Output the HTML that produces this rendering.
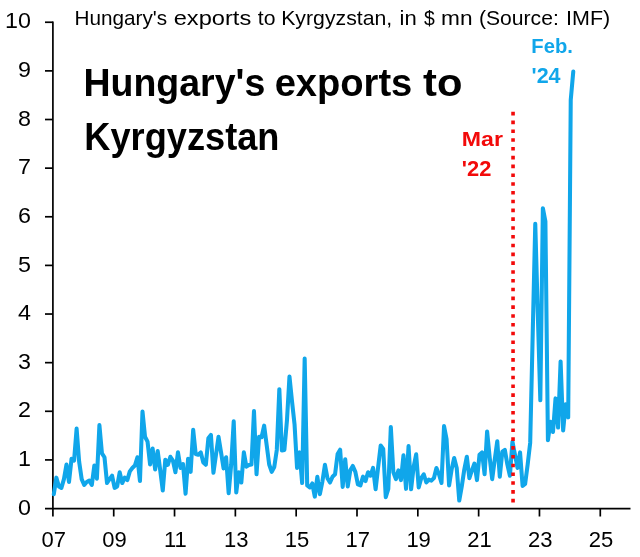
<!DOCTYPE html>
<html lang="en"><head><meta charset="utf-8"><title>Hungary's exports to Kyrgyzstan</title>
<style>html,body{margin:0;padding:0;background:#fff}svg{display:block}</style></head>
<body>
<svg width="640" height="557" viewBox="0 0 640 557">
<rect width="640" height="557" fill="#fff"/>
<g stroke="#000" stroke-width="1.7" fill="none">
<path d="M52.9 21.40 V508.55"/>
<path d="M45 508.55 H630.5"/>
<path d="M45 459.92 H52.9"/>
<path d="M45 411.29 H52.9"/>
<path d="M45 362.66 H52.9"/>
<path d="M45 314.03 H52.9"/>
<path d="M45 265.40 H52.9"/>
<path d="M45 216.77 H52.9"/>
<path d="M45 168.14 H52.9"/>
<path d="M45 119.51 H52.9"/>
<path d="M45 70.88 H52.9"/>
<path d="M45 22.25 H52.9"/>
<path d="M52.90 508.55 V516.5"/>
<path d="M113.72 508.55 V516.5"/>
<path d="M174.54 508.55 V516.5"/>
<path d="M235.36 508.55 V516.5"/>
<path d="M296.18 508.55 V516.5"/>
<path d="M357.00 508.55 V516.5"/>
<path d="M417.82 508.55 V516.5"/>
<path d="M478.64 508.55 V516.5"/>
<path d="M539.46 508.55 V516.5"/>
<path d="M600.28 508.55 V516.5"/>
</g>
<g font-family="'Liberation Sans', Arial, sans-serif" fill="#000">
<text x="18.03" y="514.70" font-size="22" textLength="12.97" lengthAdjust="spacingAndGlyphs">0</text>
<text x="18.03" y="466.07" font-size="22" textLength="12.97" lengthAdjust="spacingAndGlyphs">1</text>
<text x="18.03" y="417.44" font-size="22" textLength="12.97" lengthAdjust="spacingAndGlyphs">2</text>
<text x="18.03" y="368.81" font-size="22" textLength="12.97" lengthAdjust="spacingAndGlyphs">3</text>
<text x="18.03" y="320.18" font-size="22" textLength="12.97" lengthAdjust="spacingAndGlyphs">4</text>
<text x="18.03" y="271.55" font-size="22" textLength="12.97" lengthAdjust="spacingAndGlyphs">5</text>
<text x="18.03" y="222.92" font-size="22" textLength="12.97" lengthAdjust="spacingAndGlyphs">6</text>
<text x="18.03" y="174.29" font-size="22" textLength="12.97" lengthAdjust="spacingAndGlyphs">7</text>
<text x="18.03" y="125.66" font-size="22" textLength="12.97" lengthAdjust="spacingAndGlyphs">8</text>
<text x="18.03" y="77.03" font-size="22" textLength="12.97" lengthAdjust="spacingAndGlyphs">9</text>
<text x="5.07" y="28.40" font-size="22" textLength="25.93" lengthAdjust="spacingAndGlyphs">10</text>
<text x="53.70" y="547" font-size="22" text-anchor="middle">07</text>
<text x="114.52" y="547" font-size="22" text-anchor="middle">09</text>
<text x="175.34" y="547" font-size="22" text-anchor="middle">11</text>
<text x="236.16" y="547" font-size="22" text-anchor="middle">13</text>
<text x="296.98" y="547" font-size="22" text-anchor="middle">15</text>
<text x="357.80" y="547" font-size="22" text-anchor="middle">17</text>
<text x="418.62" y="547" font-size="22" text-anchor="middle">19</text>
<text x="479.44" y="547" font-size="22" text-anchor="middle">21</text>
<text x="540.26" y="547" font-size="22" text-anchor="middle">23</text>
<text x="601.08" y="547" font-size="22" text-anchor="middle">25</text>
<text y="24.7" font-size="20.6"><tspan x="74.59" textLength="92.6" lengthAdjust="spacingAndGlyphs">Hungary&#39;s</tspan> <tspan x="173.7" textLength="77.54" lengthAdjust="spacingAndGlyphs">exports</tspan> <tspan x="257.8" textLength="17.67" lengthAdjust="spacingAndGlyphs">to</tspan> <tspan x="281.17" textLength="111.1" lengthAdjust="spacingAndGlyphs">Kyrgyzstan,</tspan> <tspan x="399.53" textLength="17.21" lengthAdjust="spacingAndGlyphs">in</tspan> <tspan x="424.0" textLength="10.79" lengthAdjust="spacingAndGlyphs">$</tspan> <tspan x="441.04" textLength="31.49" lengthAdjust="spacingAndGlyphs">mn</tspan> <tspan x="478.97" textLength="79.79" lengthAdjust="spacingAndGlyphs">(Source:</tspan> <tspan x="566.08" textLength="44.14" lengthAdjust="spacingAndGlyphs">IMF)</tspan></text>
<text y="96.4" font-size="38" font-weight="bold"><tspan x="83.43" textLength="181.83" lengthAdjust="spacingAndGlyphs">Hungary&#39;s</tspan> <tspan x="274.65" textLength="137.63" lengthAdjust="spacingAndGlyphs">exports</tspan> <tspan x="423.1" textLength="39.31" lengthAdjust="spacingAndGlyphs">to</tspan></text>
<text y="149.5" font-size="38" font-weight="bold"><tspan x="84.35" textLength="195.06" lengthAdjust="spacingAndGlyphs">Kyrgyzstan</tspan></text>
<text y="146.1" font-size="20.9" font-weight="bold" fill="#F20A0A"><tspan x="461.79" textLength="41.15" lengthAdjust="spacingAndGlyphs">Mar</tspan></text>
<text y="175.7" font-size="21.2" font-weight="bold" fill="#F20A0A"><tspan x="461.87" textLength="29.54" lengthAdjust="spacingAndGlyphs">&#39;22</tspan></text>
<text y="53.3" font-size="20.9" font-weight="bold" fill="#10A6EA"><tspan x="531.34" textLength="41.53" lengthAdjust="spacingAndGlyphs">Feb.</tspan></text>
<text y="82.8" font-size="21.2" font-weight="bold" fill="#10A6EA"><tspan x="531.59" textLength="28.99" lengthAdjust="spacingAndGlyphs">&#39;24</tspan></text>
</g>
<polyline points="53.80,494.20 56.33,477.66 58.87,486.42 61.40,487.88 63.94,479.12 66.47,464.53 69.00,482.04 71.54,458.70 74.07,460.64 76.61,428.55 79.14,461.62 81.67,479.12 84.21,484.96 86.74,482.04 89.28,480.58 91.81,484.96 94.34,465.51 96.88,478.64 99.41,425.14 101.95,453.35 104.48,457.24 107.01,483.01 109.55,479.12 112.08,475.72 114.62,487.88 117.15,486.42 119.68,472.31 122.22,483.01 124.75,477.66 127.29,480.09 129.82,471.34 132.35,467.94 134.89,465.51 137.42,457.24 139.96,481.07 142.49,411.53 145.02,436.81 147.56,441.68 150.09,464.53 152.63,448.49 155.16,469.40 157.69,450.92 160.23,470.37 162.76,490.55 165.30,459.67 167.83,464.78 170.36,456.75 172.90,460.64 175.43,472.31 177.97,452.38 180.50,467.94 183.03,464.05 185.57,493.71 188.10,458.70 190.64,471.83 193.17,429.76 195.70,454.08 198.24,454.81 200.77,452.38 203.31,462.59 205.84,464.78 208.37,438.27 210.91,434.87 213.44,472.80 215.98,454.81 218.51,436.81 221.04,452.38 223.58,468.42 226.11,457.24 228.65,493.22 231.18,464.53 233.71,421.25 236.25,492.50 238.78,472.31 241.32,482.53 243.85,452.38 246.38,466.67 248.92,465.02 251.45,464.53 253.99,411.04 256.52,474.26 259.05,436.81 261.59,437.30 264.12,425.63 266.66,445.08 269.19,464.53 271.72,471.83 274.26,466.96 276.79,449.94 279.33,389.16 281.86,450.43 284.39,449.94 286.93,420.77 289.46,376.51 292.00,401.31 294.53,424.17 297.06,467.94 299.60,452.38 302.13,483.01 304.67,358.52 307.20,485.44 309.73,487.39 312.27,483.50 314.80,496.63 317.34,476.69 319.87,494.20 322.40,481.55 324.94,464.78 327.47,478.15 330.01,482.53 332.54,476.69 335.07,474.26 337.61,454.08 340.14,449.70 342.68,486.90 345.21,459.18 347.74,486.42 350.28,470.37 352.81,465.99 355.35,471.83 357.88,484.47 360.41,485.44 362.95,476.69 365.48,481.07 368.02,472.31 370.55,475.72 373.08,467.94 375.62,489.33 378.15,466.96 380.69,445.57 383.22,448.97 385.75,497.12 388.29,488.85 390.82,427.09 393.36,472.31 395.89,479.12 398.42,470.37 400.96,480.09 403.49,455.29 406.03,488.85 408.56,446.05 411.09,489.33 413.63,466.96 416.16,454.32 418.70,487.39 421.23,478.15 423.76,474.26 426.30,482.53 428.83,479.61 431.37,480.58 433.90,478.15 436.43,467.94 438.97,474.26 441.50,483.01 444.04,426.12 446.57,439.25 449.10,485.44 451.64,469.40 454.17,457.97 456.71,467.94 459.24,500.52 461.77,486.42 464.31,469.40 466.84,456.75 469.38,478.15 471.91,470.37 474.44,463.56 476.98,480.09 479.51,454.81 482.05,452.38 484.58,474.26 487.11,431.46 489.65,457.24 492.18,479.12 494.72,459.67 497.25,441.19 499.78,476.69 502.32,451.65 504.85,449.94 507.39,464.53 509.92,475.72 512.45,441.68 514.99,454.81 517.52,467.94 520.06,452.38 522.59,485.93 525.12,483.99 527.66,464.53 530.19,442.65 532.73,333.23 535.26,223.81 537.79,313.78 540.33,400.34 542.86,208.25 545.40,221.38 547.93,440.22 550.46,421.74 553.00,431.95 555.53,398.40 558.07,427.57 560.60,361.44 563.13,430.49 565.67,404.23 568.20,417.36 570.74,99.81 573.27,71.60" fill="none" stroke="#10A6EA" stroke-width="4.05" stroke-linejoin="round" stroke-linecap="round"/>
<path d="M513.05 111.8 V502.5" stroke="#F20A0A" stroke-width="3.6" stroke-dasharray="3.6 5.197" fill="none"/>
</svg>
</body></html>
